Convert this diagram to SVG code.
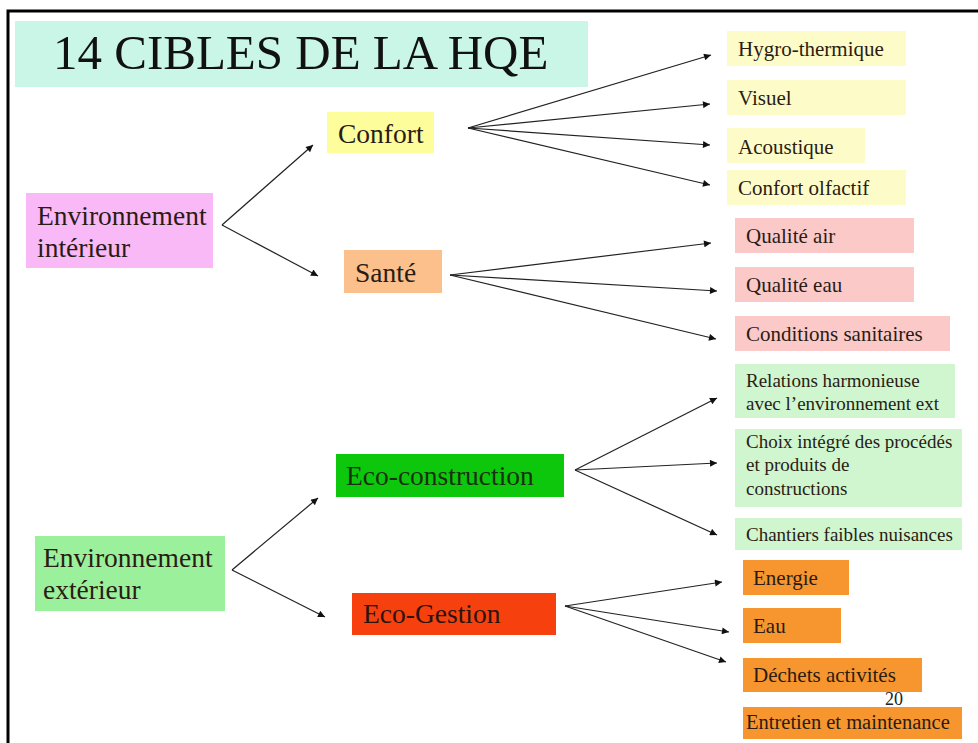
<svg xmlns="http://www.w3.org/2000/svg" width="978" height="743" viewBox="0 0 978 743">
<defs>
<marker id="ah" viewBox="0 0 10 10" refX="10" refY="5" markerWidth="10" markerHeight="7" markerUnits="userSpaceOnUse" orient="auto">
<path d="M0,0 L10,5 L0,10 z" fill="#111"/>
</marker>
<style>
text{font-family:'Liberation Serif','Times New Roman',serif;fill:#2a1c14}
.mid{font-size:27.5px}
.leaf{font-size:21px}
.small{font-size:19px}
#connectors line{stroke:#222;stroke-width:1.2;marker-end:url(#ah)}
</style>
</defs>
<rect x="0" y="0" width="978" height="743" fill="#fff"/>
<rect x="8" y="11" width="990" height="760" fill="none" stroke="#000" stroke-width="3"/>
<g id="title">
<rect x="15" y="21" width="573" height="66" fill="#c9f6e6"/>
<text x="53" y="69" style="font-size:49px;fill:#111">14 CIBLES DE LA HQE</text>
</g>
<g id="connectors">
<line x1="222" y1="225" x2="313" y2="145"/>
<line x1="222" y1="225" x2="318" y2="276"/>
<line x1="468" y1="128" x2="711" y2="55"/>
<line x1="468" y1="128" x2="710" y2="104"/>
<line x1="468" y1="128" x2="710" y2="145"/>
<line x1="468" y1="128" x2="710" y2="185"/>
<line x1="450" y1="275" x2="711" y2="243"/>
<line x1="450" y1="275" x2="717" y2="291"/>
<line x1="450" y1="275" x2="716" y2="339"/>
<line x1="232" y1="570" x2="318" y2="498"/>
<line x1="232" y1="570" x2="325" y2="617"/>
<line x1="575" y1="470" x2="717" y2="398"/>
<line x1="575" y1="470" x2="717" y2="463"/>
<line x1="575" y1="470" x2="717" y2="535"/>
<line x1="565" y1="606" x2="722" y2="582"/>
<line x1="565" y1="606" x2="729" y2="632"/>
<line x1="565" y1="606" x2="726" y2="662"/>
</g>
<g id="env-int">
<rect x="26" y="193" width="187" height="75" fill="#f9b9f7"/>
<text class="mid" x="37" y="225">Environnement</text>
<text class="mid" x="37" y="257">intérieur</text>
</g>
<g id="confort">
<rect x="327" y="112" width="107" height="41" fill="#fdfd9c"/>
<text class="mid" x="338" y="143">Confort</text>
</g>
<g id="sante">
<rect x="344" y="250" width="98" height="43" fill="#fbc08c"/>
<text class="mid" x="355" y="282">Santé</text>
</g>
<g id="hygro"><rect x="727" y="31" width="179" height="35" fill="#fdfcc8"/><text class="leaf" x="738" y="56">Hygro-thermique</text></g>
<g id="visuel"><rect x="727" y="80" width="179" height="35" fill="#fdfcc8"/><text class="leaf" x="738" y="105">Visuel</text></g>
<g id="acoustique"><rect x="727" y="128" width="138" height="35" fill="#fdfcc8"/><text class="leaf" x="738" y="154">Acoustique</text></g>
<g id="olfactif"><rect x="727" y="170" width="179" height="35" fill="#fdfcc8"/><text class="leaf" x="738" y="195">Confort olfactif</text></g>
<g id="air"><rect x="735" y="218" width="179" height="35" fill="#fcc9c9"/><text class="leaf" x="746" y="243">Qualité air</text></g>
<g id="eau-q"><rect x="735" y="267" width="179" height="35" fill="#fcc9c9"/><text class="leaf" x="746" y="292">Qualité eau</text></g>
<g id="sanitaires"><rect x="735" y="316" width="215" height="35" fill="#fcc9c9"/><text class="leaf" x="746" y="341">Conditions sanitaires</text></g>
<g id="env-ext">
<rect x="35" y="536" width="190" height="75" fill="#9bf09b"/>
<text class="mid" x="43" y="567">Environnement</text>
<text class="mid" x="43" y="599">extérieur</text>
</g>
<g id="eco-construction">
<rect x="336" y="454" width="228" height="43" fill="#0cc70c"/>
<text class="mid" x="346" y="485" style="fill:#1a3010">Eco-construction</text>
</g>
<g id="eco-gestion">
<rect x="352" y="593" width="204" height="42" fill="#f6400e"/>
<text class="mid" x="363" y="623" style="fill:#2a1410">Eco-Gestion</text>
</g>
<g id="relations"><rect x="735" y="364" width="220" height="54" fill="#cff6cf"/><text class="small" x="746" y="387">Relations harmonieuse</text><text class="small" x="746" y="410">avec l’environnement ext</text></g>
<g id="choix"><rect x="735" y="429" width="227" height="78" fill="#cff6cf"/><text class="small" x="746" y="448">Choix intégré des procédés</text><text class="small" x="746" y="471">et produits de</text><text class="small" x="746" y="495">constructions</text></g>
<g id="chantiers"><rect x="735" y="518" width="227" height="32" fill="#cff6cf"/><text class="small" x="746" y="541">Chantiers faibles nuisances</text></g>
<g id="energie"><rect x="743" y="560" width="106" height="35" fill="#f7962f"/><text class="leaf" x="753" y="585">Energie</text></g>
<g id="eau"><rect x="743" y="608" width="98" height="35" fill="#f7962f"/><text class="leaf" x="753" y="633">Eau</text></g>
<g id="dechets"><rect x="743" y="658" width="179" height="34" fill="#f7962f"/><text class="leaf" x="753" y="682">Déchets activités</text></g>
<g id="entretien"><rect x="743" y="707" width="219" height="32" fill="#f7962f"/><text class="leaf" x="746" y="729" style="font-size:20.5px">Entretien et maintenance</text></g>
<text x="885" y="705" style="font-size:18px;fill:#222">20</text>
</svg>
